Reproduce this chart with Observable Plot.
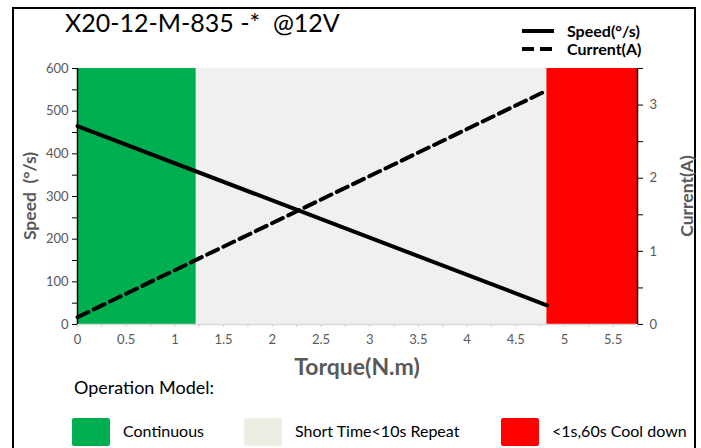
<!DOCTYPE html>
<html>
<head>
<meta charset="utf-8">
<script src="https://cdn.jsdelivr.net/npm/d3@7"></script>
<script src="https://cdn.jsdelivr.net/npm/@observablehq/plot@0.6"></script>
<style>
  html, body { margin: 0; padding: 0; background: #fff; }
  #wrap { position: relative; width: 701px; height: 448px; overflow: hidden; background: #fff; font-family: Lato, "Open Sans", sans-serif; }
  #frame { position: absolute; left: 12px; top: 7px; width: 684px; height: 460px; border: 2px solid #000; box-sizing: border-box; }
  .abs { position: absolute; white-space: nowrap; }
  .lg { font-weight: bold; font-size: 16px; color: #000; }
  .axl { font-weight: bold; color: #595959; transform: translate(-50%, -50%) rotate(-90deg); }
  #chart { position: absolute; left: 0; top: 0; }
  .sw { position: absolute; width: 38px; height: 28px; border-radius: 2px; }
  .swt { font-size: 16px; color: #000; }
</style>
</head>
<body>
<div id="wrap">
  <div id="frame"></div>
  <div id="chart"></div>
</div>
<script>
// ---- data ----
const torque = [0, 4.82];
const speed = [465, 45];
const current = [0.1, 3.2];

const zoneNames = ["Continuous", "Short Time<10s Repeat", "<1s,60s Cool down"];
const zoneStart = [0, 1.22, 4.82];
const zoneEnd = [1.22, 4.82, 5.75];
const zoneColors = ["#00b050", "#f0f0ee", "#ff0000"];
const swatchColors = ["#00b050", "#eeede4", "#ff0000"];

const speedTicks = [0, 100, 200, 300, 400, 500, 600];
const speedMinor = [50, 150, 250, 350, 450, 550];
const currentTicks = [0, 1, 2, 3];
const currentMinor = [0.5, 1.5, 2.5, 3.5];
const torqueTicks = [0, 0.5, 1, 1.5, 2, 2.5, 3, 3.5, 4, 4.5, 5, 5.5];
const torqueMinor = [0, 0.25, 0.5, 0.75, 1, 1.25, 1.5, 1.75, 2, 2.25, 2.5, 2.75, 3, 3.25, 3.5, 3.75, 4, 4.25, 4.5, 4.75, 5, 5.25, 5.5, 5.75];

const speedMax = 600, currentMax = 3.5, torqueMax = 5.75;
const k = speedMax / currentMax;

const zones = zoneNames.map((n, i) => ({name: n, x1: zoneStart[i], x2: zoneEnd[i], color: zoneColors[i], swatch: swatchColors[i]}));
const speedData = torque.map((t, i) => ({t, v: speed[i]}));
const currentData = torque.map((t, i) => ({t, v: current[i] * k}));

const gray = "#595959";

const plot = Plot.plot({
  width: 701,
  height: 400,
  marginLeft: 77,
  marginRight: 64,
  marginTop: 68,
  marginBottom: 76,
  style: {fontFamily: "Lato, 'Open Sans', sans-serif", fontSize: "13px", color: gray, background: "transparent"},
  x: {domain: [0, torqueMax]},
  y: {domain: [0, speedMax]},
  marks: [
    Plot.rect(zones, {x1: "x1", x2: "x2", y1: 0, y2: speedMax, fill: "color"}),
    Plot.ruleY([0], {stroke: "#d9d9d9", strokeWidth: 1.5}),
    Plot.axisX(torqueMinor, {tickSize: 3, tickFormat: () => "", stroke: "#d0d0d0", label: null}),
    Plot.axisX(torqueTicks, {tickSize: 0, tickPadding: 10, label: null, tickFormat: d => String(d), fill: gray}),
    Plot.axisY(speedTicks, {anchor: "left", tickSize: 5, tickPadding: 4, label: null, stroke: "#000", fill: gray}),
    Plot.axisY(speedMinor, {anchor: "left", tickSize: 5, tickFormat: () => "", label: null, stroke: "#000"}),
    Plot.axisY(currentTicks.map(v => v * k), {anchor: "right", tickSize: 5, tickPadding: 7, label: null, stroke: "#000", fill: gray, tickFormat: d => String(Math.round(d / k))}),
    Plot.axisY(currentMinor.map(v => v * k), {anchor: "right", tickSize: 5, tickFormat: () => "", label: null, stroke: "#000"}),
    Plot.ruleX([0], {stroke: "#000", strokeWidth: 1.5}),
    Plot.ruleX([torqueMax], {stroke: "#000", strokeWidth: 1.5}),
    Plot.line(speedData, {x: "t", y: "v", stroke: "#000", strokeWidth: 4}),
    Plot.line(currentData, {x: "t", y: "v", stroke: "#000", strokeWidth: 4, strokeDasharray: "12,6"})
  ]
});
document.getElementById("chart").appendChild(plot);

const wrap = document.getElementById("wrap");
function add(html, cls, style) {
  const d = document.createElement("div");
  d.className = "abs " + cls;
  Object.assign(d.style, style);
  d.innerHTML = html;
  wrap.appendChild(d);
  return d;
}
add("X20-12-M-835 -*&nbsp; @12V", "", {left: "65px", top: "7px", fontSize: "25px", color: "#000"});

// top-right legend
const legSvg = `<svg width="34" height="8" style="position:absolute;left:-45px;top:6px"><line x1="0" y1="4" x2="32" y2="4" stroke="#000" stroke-width="4"/></svg>`;
const legSvg2 = `<svg width="34" height="8" style="position:absolute;left:-45px;top:6px"><line x1="0" y1="4" x2="32" y2="4" stroke="#000" stroke-width="4" stroke-dasharray="12,6"/></svg>`;
add(legSvg + "Speed(°/s)", "lg", {left: "567px", top: "21px"});
add(legSvg2 + "Current(A)", "lg", {left: "567px", top: "39px"});

// axis titles
add("Speed&nbsp;&nbsp;(°/s)", "axl", {left: "29px", top: "196px", fontSize: "17.5px"});
add("Current(A)", "axl", {left: "686px", top: "196px", fontSize: "17.5px"});
add("Torque(N.m)", "", {left: "357px", top: "366px", fontSize: "23px", fontWeight: "bold", color: gray, transform: "translate(-50%, -50%)"});

// bottom legend
add("Operation Model:", "", {left: "74px", top: "376px", fontSize: "18px", color: "#000"});
const swX = [72, 244, 501];
zones.forEach((z, i) => {
  const s = document.createElement("div");
  s.className = "sw";
  Object.assign(s.style, {left: swX[i] + "px", top: "418px", background: z.swatch});
  wrap.appendChild(s);
  add(z.name, "swt", {left: (swX[i] + 51) + "px", top: "421px"});
});
</script>
</body>
</html>
